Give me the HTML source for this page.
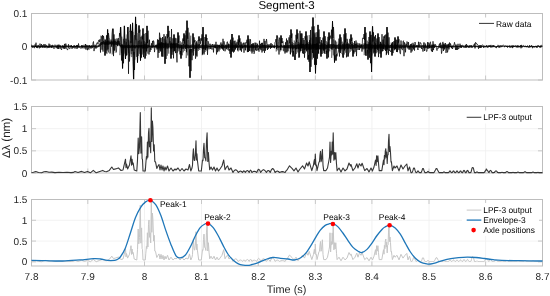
<!DOCTYPE html>
<html><head><meta charset="utf-8"><style>
html,body{margin:0;padding:0;background:#fff;width:550px;height:296px;overflow:hidden}
svg{display:block;text-rendering:geometricPrecision;filter:blur(0.35px)}
.t{font-family:"Liberation Sans",Helvetica,Arial,sans-serif;font-size:10px;fill:#262626}
.l{font-family:"Liberation Sans",Helvetica,Arial,sans-serif;font-size:8.4px;fill:#000}
.xl{font-family:"Liberation Sans",Helvetica,Arial,sans-serif;font-size:10.6px;fill:#262626}
.ti{font-family:"Liberation Sans",Helvetica,Arial,sans-serif;font-size:11.5px;fill:#000}
</style></head><body>
<svg width="550" height="296" viewBox="0 0 550 296">
<rect width="550" height="296" fill="#fff"/>
<line x1="87.80" y1="13.50" x2="87.80" y2="80.00" stroke="#efefef" stroke-width="0.8"/>
<line x1="144.50" y1="13.50" x2="144.50" y2="80.00" stroke="#efefef" stroke-width="0.8"/>
<line x1="201.50" y1="13.50" x2="201.50" y2="80.00" stroke="#efefef" stroke-width="0.8"/>
<line x1="258.30" y1="13.50" x2="258.30" y2="80.00" stroke="#efefef" stroke-width="0.8"/>
<line x1="315.40" y1="13.50" x2="315.40" y2="80.00" stroke="#efefef" stroke-width="0.8"/>
<line x1="371.90" y1="13.50" x2="371.90" y2="80.00" stroke="#efefef" stroke-width="0.8"/>
<line x1="429.00" y1="13.50" x2="429.00" y2="80.00" stroke="#efefef" stroke-width="0.8"/>
<line x1="485.60" y1="13.50" x2="485.60" y2="80.00" stroke="#efefef" stroke-width="0.8"/>
<line x1="31.50" y1="46.50" x2="542.50" y2="46.50" stroke="#efefef" stroke-width="0.8"/>
<rect x="31.50" y="13.50" width="511.00" height="66.50" fill="none" stroke="#bdbdbd" stroke-width="1"/>
<line x1="87.80" y1="13.50" x2="87.80" y2="18.00" stroke="#bdbdbd" stroke-width="0.8"/>
<line x1="87.80" y1="80.00" x2="87.80" y2="75.50" stroke="#bdbdbd" stroke-width="0.8"/>
<line x1="144.50" y1="13.50" x2="144.50" y2="18.00" stroke="#bdbdbd" stroke-width="0.8"/>
<line x1="144.50" y1="80.00" x2="144.50" y2="75.50" stroke="#bdbdbd" stroke-width="0.8"/>
<line x1="201.50" y1="13.50" x2="201.50" y2="18.00" stroke="#bdbdbd" stroke-width="0.8"/>
<line x1="201.50" y1="80.00" x2="201.50" y2="75.50" stroke="#bdbdbd" stroke-width="0.8"/>
<line x1="258.30" y1="13.50" x2="258.30" y2="18.00" stroke="#bdbdbd" stroke-width="0.8"/>
<line x1="258.30" y1="80.00" x2="258.30" y2="75.50" stroke="#bdbdbd" stroke-width="0.8"/>
<line x1="315.40" y1="13.50" x2="315.40" y2="18.00" stroke="#bdbdbd" stroke-width="0.8"/>
<line x1="315.40" y1="80.00" x2="315.40" y2="75.50" stroke="#bdbdbd" stroke-width="0.8"/>
<line x1="371.90" y1="13.50" x2="371.90" y2="18.00" stroke="#bdbdbd" stroke-width="0.8"/>
<line x1="371.90" y1="80.00" x2="371.90" y2="75.50" stroke="#bdbdbd" stroke-width="0.8"/>
<line x1="429.00" y1="13.50" x2="429.00" y2="18.00" stroke="#bdbdbd" stroke-width="0.8"/>
<line x1="429.00" y1="80.00" x2="429.00" y2="75.50" stroke="#bdbdbd" stroke-width="0.8"/>
<line x1="485.60" y1="13.50" x2="485.60" y2="18.00" stroke="#bdbdbd" stroke-width="0.8"/>
<line x1="485.60" y1="80.00" x2="485.60" y2="75.50" stroke="#bdbdbd" stroke-width="0.8"/>
<line x1="31.50" y1="13.50" x2="36.00" y2="13.50" stroke="#bdbdbd" stroke-width="0.8"/>
<line x1="542.50" y1="13.50" x2="538.00" y2="13.50" stroke="#bdbdbd" stroke-width="0.8"/>
<text x="27.3" y="17.10" text-anchor="end" class="t">0.1</text>
<line x1="31.50" y1="46.50" x2="36.00" y2="46.50" stroke="#bdbdbd" stroke-width="0.8"/>
<line x1="542.50" y1="46.50" x2="538.00" y2="46.50" stroke="#bdbdbd" stroke-width="0.8"/>
<text x="27.3" y="50.10" text-anchor="end" class="t">0</text>
<line x1="31.50" y1="80.00" x2="36.00" y2="80.00" stroke="#bdbdbd" stroke-width="0.8"/>
<line x1="542.50" y1="80.00" x2="538.00" y2="80.00" stroke="#bdbdbd" stroke-width="0.8"/>
<text x="27.3" y="83.60" text-anchor="end" class="t">-0.1</text>
<polyline points="31.5,46.1 31.8,47.1 32.2,45.8 32.5,46.8 32.8,46.1 33.1,47.3 33.5,46.2 33.8,46.9 34.1,45.6 34.5,47.2 34.8,46.0 35.1,47.1 35.5,45.8 35.8,47.0 36.1,46.1 36.4,47.3 36.8,45.8 37.1,47.1 37.4,45.7 37.8,47.1 38.1,45.6 38.4,46.9 38.8,45.9 39.1,47.1 39.4,46.0 39.7,47.1 40.1,46.1 40.4,47.3 40.7,45.7 41.1,46.9 41.4,45.9 41.7,47.0 42.1,46.1 42.4,47.3 42.7,45.9 43.0,46.9 43.4,45.8 43.7,46.9 44.0,45.7 44.4,46.9 44.7,46.2 45.0,46.8 45.4,46.2 45.7,46.9 46.0,45.9 46.3,47.1 46.7,46.0 47.0,46.8 47.3,46.1 47.7,47.5 48.0,45.9 48.3,47.3 48.7,46.1 49.0,46.9 49.3,45.6 49.6,47.2 50.0,46.0 50.3,47.0 50.6,46.1 51.0,46.9 51.3,46.1 51.6,47.4 52.0,45.9 52.3,46.9 52.6,45.7 52.9,47.0 53.3,46.1 53.6,47.2 53.9,45.7 54.3,46.8 54.6,45.8 54.9,46.9 55.3,46.2 55.6,46.8 55.9,46.1 56.2,47.1 56.6,46.0 56.9,47.3 57.2,46.0 57.6,47.1 57.9,45.9 58.2,47.6 58.6,45.4 58.9,47.1 59.2,45.8 59.5,47.1 59.9,45.6 60.2,46.9 60.5,46.1 60.9,47.2 61.2,45.9 61.5,47.5 61.9,45.6 62.2,47.3 62.5,45.6 62.8,47.4 63.2,45.5 63.5,47.6 63.8,46.0 64.2,47.4 64.5,46.0 64.8,47.2 65.2,45.5 65.5,47.6 65.8,45.5 66.1,46.9 66.5,45.8 66.8,47.0 67.1,45.4 67.5,47.0 67.8,45.9 68.1,47.2 68.5,46.1 68.8,47.5 69.1,45.6 69.4,47.0 69.8,45.7 70.1,46.9 70.4,45.7 70.8,47.0 71.1,46.2 71.4,46.8 71.8,46.0 72.1,47.0 72.4,46.1 72.7,47.0 73.1,46.1 73.4,46.8 73.7,46.1 74.1,46.9 74.4,45.8 74.7,46.8 75.1,46.2 75.4,47.0 75.7,45.8 76.0,47.2 76.4,45.9 76.7,46.8 77.0,45.9 77.4,47.1 77.7,46.2 78.0,47.0 78.4,46.2 78.7,47.1 79.0,45.9 79.3,47.1 79.7,45.9 80.0,46.9 80.3,45.9 80.7,46.9 81.0,46.2 81.3,47.0 81.7,46.0 82.0,46.9 82.3,45.9 82.6,47.1 83.0,46.1 83.3,47.1 83.6,46.0 84.0,47.2 84.3,46.0 84.6,47.3 85.0,46.0 85.3,47.1 85.6,45.8 85.9,47.1 86.3,46.0 86.6,47.4 86.9,46.1 87.3,47.0 87.6,45.8 87.9,46.9 88.3,46.1 88.6,47.4 88.9,45.6 89.2,47.3 89.6,45.5 89.9,47.4 90.2,45.9 90.6,47.3 90.9,45.9 91.2,47.4 91.6,45.8 91.9,47.0 92.2,45.5 92.5,47.4 92.9,45.6 93.2,47.3 93.5,45.5 93.9,47.2 94.2,45.7 94.5,47.0 94.9,45.7 95.2,47.5 95.5,45.5 95.8,47.5 96.2,45.7 96.5,47.6 96.8,46.0 97.2,47.7 97.5,45.7 97.8,47.1 98.2,45.2 98.5,47.1 98.8,44.8 99.1,47.0 99.5,44.4 99.8,46.3 100.1,43.4 100.5,45.7 100.8,42.7 101.1,44.6 101.5,42.1 101.8,45.1 102.1,42.0 102.4,43.8 102.8,42.2 103.1,44.4 103.4,40.8 103.8,43.8 104.1,40.8 104.4,44.6 104.8,42.0 105.1,44.5 105.4,41.8 105.7,45.0 106.1,41.3 106.4,44.3 106.7,41.7 107.1,45.3 107.4,40.9 107.7,44.6 108.1,41.4 108.4,45.1 108.7,40.5 109.0,44.0 109.4,41.8 109.7,44.5 110.0,41.2 110.4,44.0 110.7,42.0 111.0,44.3 111.4,41.4 111.7,45.2 112.0,41.0 112.3,44.0 112.7,42.0 113.0,44.7 113.3,40.6 113.7,45.5 114.0,41.4 114.3,45.5 114.7,40.5 115.0,44.6 115.3,40.8 115.6,44.6 116.0,41.8 116.3,45.0 116.6,41.9 117.0,45.1 117.3,40.6 117.6,45.6 118.0,41.2 118.3,44.1 118.6,40.6 118.9,45.3 119.3,41.2 119.6,45.7 119.9,42.9 120.3,46.5 120.6,44.9 120.9,47.4 121.3,45.0 121.6,47.6 121.9,45.0 122.2,47.8 122.6,45.3 122.9,48.4 123.2,45.6 123.6,47.8 123.9,45.6 124.2,48.3 124.6,45.2 124.9,47.6 125.2,45.6 125.5,47.9 125.9,45.3 126.2,47.3 126.5,45.8 126.9,47.7 127.2,45.1 127.5,47.8 127.9,44.7 128.2,48.4 128.5,44.6 128.8,48.2 129.2,45.2 129.5,47.9 129.8,45.3 130.2,47.7 130.5,45.7 130.8,48.2 131.2,45.5 131.5,47.2 131.8,45.2 132.1,48.1 132.5,45.2 132.8,47.7 133.1,44.9 133.5,47.4 133.8,45.8 134.1,48.0 134.5,45.1 134.8,48.4 135.1,45.2 135.4,48.3 135.8,45.8 136.1,47.3 136.4,45.0 136.8,47.5 137.1,45.7 137.4,47.4 137.8,45.3 138.1,47.7 138.4,45.0 138.7,48.4 139.1,45.3 139.4,47.5 139.7,45.0 140.1,47.2 140.4,45.2 140.7,47.7 141.1,45.2 141.4,47.3 141.7,45.0 142.0,48.1 142.4,44.7 142.7,48.6 143.0,45.2 143.4,48.2 143.7,45.1 144.0,47.6 144.4,44.5 144.7,48.3 145.0,44.4 145.3,48.5 145.7,44.4 146.0,47.5 146.3,45.7 146.7,47.6 147.0,45.1 147.3,48.3 147.7,45.0 148.0,48.1 148.3,44.7 148.6,47.3 149.0,45.1 149.3,47.1 149.6,45.8 150.0,47.5 150.3,45.5 150.6,47.3 151.0,45.8 151.3,47.6 151.6,45.8 151.9,47.0 152.3,45.9 152.6,47.0 152.9,45.4 153.3,47.0 153.6,45.3 153.9,47.1 154.3,45.8 154.6,47.4 154.9,45.8 155.2,47.3 155.6,46.0 155.9,47.3 156.2,45.9 156.6,47.4 156.9,44.4 157.2,47.8 157.6,44.8 157.9,48.8 158.2,43.0 158.5,47.8 158.9,43.9 159.2,48.5 159.5,42.7 159.9,48.1 160.2,43.9 160.5,47.1 160.9,42.7 161.2,48.2 161.5,42.4 161.8,48.4 162.2,43.4 162.5,47.0 162.8,42.4 163.2,48.2 163.5,43.1 163.8,48.2 164.2,43.5 164.5,47.4 164.8,43.1 165.1,47.7 165.5,42.8 165.8,48.7 166.1,42.5 166.5,47.5 166.8,43.5 167.1,48.7 167.5,43.5 167.8,48.4 168.1,44.1 168.4,47.7 168.8,43.2 169.1,48.4 169.4,42.4 169.8,47.0 170.1,43.0 170.4,48.1 170.8,44.0 171.1,48.5 171.4,43.1 171.7,48.8 172.1,43.9 172.4,47.8 172.7,43.6 173.1,48.1 173.4,43.0 173.7,47.8 174.1,43.6 174.4,47.8 174.7,43.5 175.0,48.6 175.4,43.3 175.7,47.7 176.0,43.8 176.4,47.3 176.7,42.9 177.0,47.6 177.4,43.8 177.7,48.2 178.0,44.2 178.3,47.6 178.7,44.3 179.0,48.5 179.3,44.8 179.7,48.4 180.0,44.6 180.3,48.0 180.7,44.7 181.0,47.7 181.3,45.7 181.6,48.3 182.0,45.0 182.3,48.7 182.6,45.3 183.0,48.5 183.3,44.2 183.6,48.7 184.0,44.2 184.3,47.5 184.6,45.4 184.9,47.7 185.3,45.1 185.6,47.5 185.9,45.5 186.3,47.3 186.6,44.3 186.9,47.9 187.3,44.8 187.6,48.0 187.9,44.6 188.2,48.5 188.6,45.1 188.9,48.1 189.2,45.5 189.6,47.7 189.9,45.4 190.2,47.8 190.6,45.2 190.9,48.2 191.2,45.2 191.5,47.8 191.9,44.4 192.2,47.3 192.5,45.7 192.9,47.4 193.2,44.4 193.5,48.3 193.9,44.6 194.2,48.7 194.5,45.4 194.8,48.7 195.2,45.3 195.5,48.1 195.8,44.7 196.2,48.5 196.5,45.3 196.8,48.0 197.2,45.6 197.5,47.7 197.8,44.2 198.1,48.7 198.5,44.8 198.8,48.5 199.1,44.3 199.5,47.8 199.8,44.2 200.1,48.0 200.5,45.5 200.8,48.1 201.1,44.8 201.4,48.3 201.8,44.7 202.1,47.3 202.4,44.8 202.8,48.6 203.1,44.8 203.4,48.7 203.8,45.0 204.1,48.4 204.4,45.5 204.7,48.5 205.1,45.1 205.4,48.5 205.7,45.3 206.1,48.1 206.4,44.6 206.7,48.2 207.1,44.9 207.4,48.4 207.7,45.8 208.0,47.1 208.4,45.5 208.7,47.7 209.0,45.7 209.4,47.1 209.7,46.1 210.0,47.2 210.4,45.8 210.7,47.2 211.0,45.7 211.3,47.1 211.7,45.5 212.0,47.1 212.3,46.1 212.7,47.1 213.0,45.5 213.3,47.0 213.7,45.9 214.0,47.5 214.3,45.8 214.6,47.7 215.0,45.9 215.3,48.0 215.6,45.6 216.0,47.4 216.3,44.9 216.6,48.4 217.0,44.7 217.3,48.1 217.6,44.7 217.9,48.4 218.3,45.2 218.6,47.3 218.9,44.8 219.3,47.6 219.6,45.5 219.9,47.8 220.3,45.8 220.6,47.2 220.9,45.5 221.2,47.9 221.6,44.9 221.9,48.3 222.2,44.8 222.6,48.3 222.9,45.1 223.2,48.1 223.6,45.1 223.9,47.3 224.2,45.8 224.5,48.1 224.9,45.6 225.2,48.1 225.5,45.3 225.9,47.2 226.2,45.1 226.5,47.8 226.9,45.7 227.2,47.6 227.5,45.3 227.8,47.8 228.2,44.6 228.5,47.6 228.8,45.0 229.2,48.2 229.5,44.3 229.8,47.5 230.2,45.6 230.5,47.6 230.8,45.4 231.1,47.6 231.5,45.6 231.8,47.6 232.1,45.4 232.5,48.0 232.8,44.7 233.1,47.9 233.5,45.4 233.8,47.5 234.1,45.3 234.4,47.6 234.8,45.0 235.1,48.6 235.4,44.7 235.8,47.5 236.1,45.8 236.4,47.2 236.8,45.4 237.1,47.5 237.4,45.2 237.7,47.2 238.1,45.6 238.4,47.8 238.7,45.3 239.1,47.7 239.4,44.9 239.7,47.2 240.1,45.7 240.4,47.7 240.7,45.3 241.0,48.2 241.4,44.8 241.7,47.8 242.0,45.1 242.4,47.9 242.7,45.7 243.0,47.8 243.4,45.6 243.7,47.5 244.0,45.7 244.3,47.1 244.7,44.9 245.0,47.9 245.3,45.0 245.7,47.4 246.0,45.4 246.3,47.3 246.7,45.2 247.0,48.1 247.3,45.0 247.6,48.2 248.0,45.6 248.3,47.9 248.6,45.7 249.0,47.7 249.3,45.8 249.6,47.7 250.0,45.3 250.3,47.5 250.6,45.5 250.9,47.9 251.3,45.3 251.6,47.6 251.9,45.7 252.3,47.5 252.6,44.9 252.9,48.3 253.3,45.4 253.6,48.1 253.9,44.8 254.2,47.4 254.6,45.5 254.9,48.0 255.2,45.5 255.6,48.3 255.9,45.4 256.2,48.0 256.6,45.0 256.9,47.4 257.2,44.8 257.5,47.5 257.9,45.7 258.2,47.2 258.5,45.3 258.9,47.9 259.2,45.5 259.5,48.2 259.9,45.5 260.2,48.2 260.5,45.8 260.8,47.5 261.2,45.7 261.5,47.7 261.8,45.4 262.2,47.6 262.5,44.8 262.8,47.9 263.2,45.1 263.5,47.6 263.8,44.9 264.1,47.8 264.5,44.9 264.8,48.3 265.1,45.1 265.5,47.7 265.8,45.5 266.1,48.2 266.5,45.1 266.8,47.9 267.1,45.8 267.4,47.3 267.8,45.4 268.1,47.0 268.4,45.6 268.8,47.2 269.1,46.0 269.4,47.1 269.8,46.1 270.1,47.3 270.4,45.6 270.7,46.9 271.1,45.9 271.4,47.4 271.7,46.0 272.1,47.2 272.4,45.6 272.7,47.3 273.1,46.0 273.4,47.5 273.7,45.6 274.0,47.3 274.4,45.8 274.7,47.4 275.0,45.6 275.4,47.2 275.7,45.8 276.0,47.2 276.4,45.7 276.7,47.4 277.0,45.2 277.3,47.8 277.7,45.2 278.0,48.1 278.3,45.8 278.7,47.6 279.0,45.8 279.3,47.6 279.7,45.8 280.0,47.2 280.3,45.8 280.6,47.6 281.0,45.0 281.3,47.4 281.6,45.0 282.0,47.4 282.3,45.6 282.6,47.7 283.0,45.8 283.3,47.6 283.6,45.2 283.9,48.1 284.3,45.8 284.6,48.0 284.9,45.2 285.3,47.8 285.6,45.8 285.9,48.1 286.3,45.6 286.6,47.7 286.9,45.3 287.2,48.2 287.6,45.2 287.9,48.3 288.2,45.5 288.6,48.1 288.9,44.8 289.2,48.2 289.6,44.5 289.9,48.5 290.2,44.8 290.5,48.8 290.9,45.3 291.2,48.5 291.5,44.6 291.9,48.0 292.2,44.3 292.5,48.9 292.9,45.2 293.2,48.2 293.5,45.3 293.8,48.8 294.2,45.3 294.5,48.0 294.8,44.5 295.2,48.5 295.5,45.3 295.8,49.5 296.2,44.9 296.5,48.9 296.8,44.9 297.1,48.9 297.5,44.6 297.8,48.3 298.1,44.4 298.5,48.9 298.8,44.1 299.1,49.1 299.5,44.8 299.8,47.8 300.1,44.8 300.4,48.4 300.8,44.0 301.1,48.6 301.4,44.7 301.8,47.9 302.1,44.0 302.4,48.0 302.8,44.1 303.1,49.4 303.4,43.7 303.7,48.2 304.1,44.3 304.4,50.1 304.7,45.0 305.1,49.5 305.4,44.1 305.7,49.3 306.1,44.2 306.4,48.1 306.7,43.8 307.0,47.8 307.4,43.1 307.7,49.8 308.0,44.3 308.4,49.1 308.7,43.9 309.0,50.2 309.4,45.1 309.7,48.6 310.0,44.2 310.3,49.8 310.7,43.4 311.0,48.9 311.3,45.1 311.7,49.4 312.0,44.2 312.3,48.1 312.7,43.6 313.0,48.9 313.3,44.4 313.6,48.5 314.0,43.9 314.3,48.4 314.6,44.2 315.0,50.1 315.3,44.0 315.6,48.4 316.0,43.9 316.3,50.0 316.6,43.3 316.9,49.2 317.3,43.5 317.6,49.1 317.9,44.2 318.3,48.3 318.6,45.2 318.9,48.9 319.3,44.3 319.6,49.4 319.9,44.9 320.2,49.2 320.6,45.1 320.9,49.3 321.2,43.6 321.6,47.6 321.9,44.9 322.2,49.4 322.6,43.6 322.9,48.8 323.2,45.2 323.5,47.5 323.9,45.0 324.2,49.3 324.5,43.9 324.9,48.3 325.2,44.0 325.5,49.3 325.9,44.9 326.2,49.2 326.5,45.0 326.8,48.2 327.2,45.4 327.5,47.8 327.8,44.4 328.2,47.6 328.5,44.4 328.8,47.9 329.2,44.0 329.5,47.8 329.8,45.1 330.1,48.0 330.5,44.4 330.8,49.1 331.1,44.0 331.5,48.9 331.8,44.2 332.1,48.6 332.5,44.8 332.8,47.9 333.1,43.8 333.4,48.3 333.8,44.2 334.1,47.7 334.4,44.8 334.8,47.7 335.1,44.8 335.4,48.9 335.8,44.8 336.1,48.8 336.4,45.2 336.7,48.3 337.1,44.7 337.4,48.5 337.7,45.0 338.1,48.9 338.4,43.8 338.7,49.1 339.1,45.4 339.4,48.5 339.7,44.8 340.0,48.6 340.4,45.3 340.7,48.9 341.0,44.7 341.4,49.3 341.7,45.4 342.0,48.3 342.4,44.5 342.7,49.1 343.0,44.0 343.3,47.9 343.7,44.9 344.0,48.9 344.3,44.7 344.7,48.0 345.0,43.7 345.3,49.1 345.7,44.8 346.0,48.6 346.3,43.7 346.6,47.9 347.0,43.7 347.3,49.2 347.6,44.1 348.0,48.8 348.3,44.2 348.6,48.6 349.0,44.4 349.3,47.9 349.6,44.4 349.9,48.8 350.3,44.5 350.6,48.8 350.9,44.6 351.3,49.1 351.6,44.1 351.9,47.7 352.3,44.0 352.6,48.1 352.9,45.3 353.2,47.8 353.6,44.9 353.9,48.5 354.2,44.8 354.6,47.9 354.9,44.0 355.2,48.2 355.6,43.8 355.9,48.0 356.2,44.3 356.5,48.0 356.9,44.4 357.2,48.1 357.5,45.1 357.9,47.1 358.2,45.3 358.5,47.4 358.9,45.3 359.2,47.8 359.5,45.9 359.8,47.0 360.2,45.3 360.5,47.9 360.8,45.1 361.2,47.5 361.5,44.8 361.8,47.3 362.2,45.5 362.5,48.6 362.8,44.3 363.1,49.5 363.5,44.8 363.8,48.7 364.1,43.2 364.5,48.3 364.8,44.4 365.1,49.0 365.5,43.2 365.8,48.1 366.1,43.8 366.4,48.6 366.8,44.4 367.1,48.2 367.4,44.3 367.8,48.9 368.1,44.5 368.4,48.8 368.8,43.9 369.1,49.5 369.4,44.1 369.7,48.5 370.1,43.2 370.4,48.1 370.7,45.2 371.1,49.7 371.4,44.7 371.7,48.0 372.1,44.5 372.4,48.4 372.7,44.7 373.0,49.2 373.4,44.9 373.7,47.7 374.0,45.2 374.4,49.1 374.7,44.8 375.0,48.1 375.4,44.2 375.7,49.1 376.0,44.6 376.3,48.9 376.7,45.1 377.0,48.1 377.3,44.5 377.7,47.9 378.0,45.1 378.3,47.8 378.7,45.1 379.0,48.9 379.3,44.1 379.6,47.7 380.0,44.9 380.3,48.7 380.6,44.0 381.0,48.4 381.3,44.3 381.6,47.9 382.0,44.2 382.3,48.9 382.6,44.8 382.9,47.9 383.3,45.5 383.6,48.6 383.9,44.4 384.3,47.5 384.6,44.6 384.9,49.1 385.3,45.5 385.6,47.7 385.9,45.4 386.2,48.2 386.6,44.9 386.9,49.0 387.2,45.4 387.6,47.8 387.9,43.9 388.2,47.5 388.6,45.2 388.9,48.0 389.2,45.7 389.5,47.7 389.9,44.9 390.2,48.1 390.5,44.9 390.9,48.1 391.2,44.9 391.5,47.3 391.9,44.9 392.2,48.0 392.5,45.5 392.8,47.8 393.2,45.4 393.5,48.4 393.8,45.4 394.2,47.5 394.5,44.7 394.8,48.3 395.2,44.6 395.5,48.2 395.8,45.2 396.1,47.9 396.5,45.0 396.8,48.0 397.1,44.5 397.5,47.6 397.8,44.7 398.1,47.3 398.5,45.5 398.8,48.5 399.1,45.4 399.4,47.9 399.8,44.5 400.1,48.1 400.4,45.1 400.8,48.2 401.1,44.4 401.4,48.5 401.8,45.5 402.1,47.4 402.4,45.4 402.7,47.4 403.1,44.7 403.4,48.4 403.7,45.6 404.1,47.3 404.4,45.4 404.7,47.9 405.1,45.1 405.4,47.5 405.7,45.4 406.0,47.7 406.4,45.3 406.7,47.0 407.0,45.5 407.4,47.6 407.7,45.3 408.0,47.3 408.4,45.9 408.7,47.3 409.0,45.8 409.3,47.3 409.7,45.4 410.0,47.5 410.3,45.5 410.7,47.5 411.0,45.9 411.3,47.0 411.7,45.7 412.0,47.6 412.3,45.5 412.6,47.6 413.0,45.5 413.3,47.6 413.6,45.2 414.0,47.5 414.3,45.4 414.6,47.7 415.0,45.5 415.3,47.6 415.6,46.0 415.9,47.0 416.3,45.3 416.6,47.1 416.9,45.8 417.3,47.1 417.6,45.5 417.9,47.0 418.3,45.4 418.6,47.2 418.9,45.4 419.2,47.7 419.6,45.5 419.9,47.3 420.2,45.5 420.6,47.8 420.9,45.2 421.2,47.3 421.6,45.9 421.9,48.2 422.2,45.1 422.5,47.2 422.9,45.2 423.2,47.9 423.5,45.5 423.9,48.2 424.2,45.5 424.5,47.3 424.9,45.5 425.2,47.6 425.5,44.8 425.8,48.0 426.2,45.7 426.5,47.6 426.8,45.7 427.2,48.0 427.5,44.8 427.8,47.3 428.2,45.2 428.5,47.5 428.8,45.5 429.1,48.1 429.5,44.6 429.8,47.5 430.1,45.2 430.5,47.5 430.8,45.8 431.1,47.9 431.5,45.6 431.8,48.0 432.1,44.9 432.4,47.3 432.8,45.1 433.1,47.4 433.4,44.9 433.8,47.5 434.1,45.1 434.4,47.6 434.8,45.7 435.1,46.9 435.4,45.8 435.7,47.0 436.1,45.8 436.4,47.1 436.7,46.0 437.1,47.2 437.4,46.0 437.7,47.2 438.1,46.0 438.4,47.2 438.7,45.8 439.0,47.3 439.4,46.0 439.7,47.0 440.0,45.6 440.4,47.4 440.7,45.4 441.0,48.2 441.4,45.4 441.7,48.5 442.0,44.7 442.3,48.1 442.7,45.4 443.0,48.3 443.3,44.5 443.7,48.3 444.0,44.5 444.3,47.4 444.7,44.8 445.0,48.4 445.3,45.1 445.6,47.3 446.0,45.0 446.3,47.6 446.6,45.7 447.0,48.5 447.3,44.7 447.6,47.9 448.0,45.1 448.3,47.7 448.6,45.6 448.9,47.0 449.3,45.8 449.6,47.3 449.9,45.7 450.3,47.1 450.6,46.0 450.9,47.1 451.3,46.0 451.6,47.5 451.9,46.0 452.2,47.1 452.6,45.8 452.9,47.0 453.2,45.8 453.6,47.2 453.9,46.1 454.2,47.4 454.6,45.8 454.9,46.9 455.2,45.6 455.5,46.9 455.9,45.7 456.2,47.1 456.5,46.0 456.9,47.0 457.2,45.9 457.5,47.0 457.9,46.0 458.2,47.0 458.5,45.9 458.8,47.2 459.2,46.1 459.5,46.8 459.8,45.7 460.2,46.8 460.5,45.9 460.8,47.1 461.2,45.7 461.5,46.9 461.8,45.7 462.1,46.9 462.5,46.1 462.8,47.1 463.1,46.1 463.5,47.1 463.8,45.9 464.1,46.8 464.5,45.8 464.8,47.0 465.1,45.7 465.4,46.8 465.8,46.2 466.1,47.1 466.4,46.1 466.8,47.0 467.1,45.8 467.4,46.9 467.8,46.2 468.1,46.8 468.4,46.0 468.7,47.1 469.1,45.9 469.4,47.0 469.7,46.1 470.1,46.8 470.4,46.2 470.7,46.8 471.1,45.9 471.4,46.9 471.7,46.2 472.0,47.0 472.4,46.1 472.7,46.7 473.0,45.9 473.4,47.1 473.7,46.2 474.0,47.1 474.4,46.0 474.7,47.1 475.0,45.8 475.3,47.3 475.7,45.9 476.0,47.0 476.3,45.6 476.7,47.1 477.0,46.0 477.3,47.2 477.7,45.9 478.0,47.1 478.3,46.1 478.6,46.9 479.0,46.3 479.3,46.7 479.6,46.2 480.0,46.8 480.3,46.2 480.6,46.7 481.0,46.1 481.3,46.8 481.6,46.2 481.9,46.9 482.3,46.1 482.6,46.9 482.9,46.1 483.3,46.8 483.6,46.3 483.9,46.9 484.3,46.3 484.6,46.9 484.9,46.2 485.2,46.7 485.6,46.2 485.9,46.8 486.2,46.1 486.6,46.9 486.9,46.1 487.2,46.7 487.6,46.2 487.9,46.7 488.2,46.2 488.5,46.7 488.9,46.2 489.2,46.7 489.5,46.1 489.9,46.9 490.2,46.3 490.5,46.9 490.9,46.3 491.2,46.8 491.5,46.3 491.8,46.8 492.2,46.2 492.5,46.7 492.8,46.3 493.2,46.8 493.5,46.1 493.8,46.9 494.2,46.3 494.5,46.7 494.8,46.3 495.1,46.7 495.5,46.3 495.8,46.7 496.1,46.2 496.5,46.7 496.8,46.2 497.1,46.7 497.5,46.3 497.8,46.8 498.1,46.2 498.4,46.8 498.8,46.3 499.1,46.8 499.4,46.1 499.8,46.6 500.1,46.3 500.4,46.8 500.8,46.3 501.1,46.7 501.4,46.1 501.7,46.7 502.1,46.1 502.4,46.8 502.7,46.3 503.1,46.7 503.4,46.3 503.7,46.8 504.1,46.1 504.4,46.7 504.7,46.3 505.0,46.7 505.4,46.3 505.7,46.7 506.0,46.1 506.4,46.9 506.7,46.1 507.0,46.8 507.4,46.1 507.7,46.8 508.0,46.3 508.3,46.8 508.7,46.3 509.0,46.8 509.3,46.1 509.7,46.7 510.0,46.3 510.3,46.9 510.7,46.2 511.0,46.7 511.3,46.3 511.6,46.7 512.0,46.1 512.3,46.8 512.6,46.1 513.0,46.8 513.3,46.1 513.6,46.9 514.0,46.2 514.3,46.9 514.6,46.3 514.9,46.7 515.3,46.2 515.6,46.7 515.9,46.2 516.3,46.8 516.6,46.1 516.9,46.9 517.3,46.3 517.6,46.9 517.9,46.2 518.2,46.8 518.6,46.2 518.9,46.9 519.2,46.3 519.6,46.6 519.9,46.1 520.2,46.8 520.6,46.2 520.9,46.7 521.2,46.3 521.5,46.8 521.9,46.1 522.2,46.8 522.5,46.2 522.9,46.8 523.2,46.3 523.5,46.8 523.9,46.3 524.2,46.8 524.5,46.2 524.8,46.8 525.2,46.2 525.5,46.9 525.8,46.1 526.2,46.7 526.5,46.2 526.8,46.7 527.2,46.3 527.5,46.8 527.8,46.1 528.1,46.9 528.5,46.3 528.8,46.7 529.1,46.2 529.5,46.9 529.8,46.3 530.1,46.7 530.5,46.2 530.8,46.8 531.1,46.1 531.4,46.7 531.8,46.2 532.1,46.9 532.4,46.2 532.8,46.8 533.1,46.3 533.4,46.9 533.8,46.2 534.1,46.8 534.4,46.2 534.7,46.9 535.1,46.1 535.4,46.7 535.7,46.2 536.1,46.8 536.4,46.1 536.7,46.9 537.1,46.2 537.4,46.9 537.7,46.2 538.0,46.8 538.4,46.3 538.7,46.8 539.0,46.3 539.4,46.8 539.7,46.4 540.0,46.8 540.4,46.2 540.7,46.8 541.0,46.2 541.3,46.7 541.7,46.2 542.0,46.8 542.3,46.2" fill="none" stroke="#000" stroke-width="0.50" stroke-linejoin="miter"/>
<polyline points="31.5,44.7 32.0,47.3 32.5,47.5 33.0,45.3 33.5,47.3 34.0,47.8 34.5,48.0 35.0,44.5 35.5,47.0 36.0,42.7 36.5,47.7 37.0,45.8 37.5,48.1 38.0,45.4 38.5,45.3 39.0,48.1 39.5,48.2 40.0,43.6 40.5,47.4 41.0,47.8 41.5,44.1 42.0,47.2 42.5,45.3 43.0,48.0 43.5,44.5 44.0,44.7 44.5,47.7 45.0,44.0 45.5,47.6 46.0,45.0 46.5,45.3 47.0,48.2 47.5,46.0 48.0,45.8 48.5,47.7 49.0,43.6 49.5,47.6 50.0,44.5 50.5,45.4 51.0,47.9 51.5,45.4 52.0,48.0 52.5,45.0 53.0,45.0 53.5,47.9 54.0,48.8 54.5,47.7 55.0,44.7 55.5,45.6 56.0,48.2 56.5,47.8 57.0,44.9 57.5,48.7 58.0,44.8 58.5,49.0 59.0,44.6 59.5,45.3 60.0,48.7 60.5,45.5 61.0,48.7 61.5,49.9 62.0,48.1 62.5,45.7 63.0,47.5 63.5,45.9 64.0,49.0 64.5,43.9 65.0,48.9 65.5,43.9 66.0,43.5 66.5,48.5 67.0,49.0 67.5,50.1 68.0,48.6 68.5,44.3 69.0,47.9 69.5,48.7 70.0,48.8 70.5,45.7 71.0,47.3 71.5,45.1 72.0,48.8 72.5,46.0 73.0,48.1 73.5,45.6 74.0,47.7 74.5,45.4 75.0,48.6 75.5,46.0 76.0,47.4 76.5,45.2 77.0,49.0 77.5,45.0 78.0,48.0 78.5,43.5 79.0,47.1 79.5,47.8 80.0,47.1 80.5,47.8 81.0,48.6 81.5,45.2 82.0,47.9 82.5,45.4 83.0,48.4 83.5,45.3 84.0,44.8 84.5,45.9 85.0,48.6 85.5,44.0 86.0,49.7 86.5,44.9 87.0,45.7 87.5,50.2 88.0,45.2 88.5,49.1 89.0,49.6 89.5,45.4 90.0,47.5 90.5,45.8 91.0,48.7 91.5,45.5 92.0,48.0 92.5,47.8 93.0,42.9 93.5,41.5 94.0,51.1 94.5,48.1 95.0,44.7 95.5,47.6 96.0,48.7 96.5,44.1 97.0,42.6 97.5,42.7 98.0,44.3 98.5,40.5 99.0,39.9 99.5,41.9 100.0,39.3 100.5,52.5 101.0,35.8 101.5,36.6 102.0,49.7 102.5,35.1 103.0,51.6 103.5,35.9 104.0,39.5 104.5,39.7 105.0,55.5 105.5,39.6 106.0,53.1 106.5,35.3 107.0,50.5 107.5,29.5 108.0,49.3 108.5,33.1 109.0,37.3 109.5,39.2 110.0,53.5 110.5,51.1 111.0,39.6 111.5,46.6 112.0,34.2 112.5,29.1 113.0,28.7 113.5,56.1 114.0,34.4 114.5,50.6 115.0,38.8 115.5,46.0 116.0,52.5 116.5,51.6 117.0,38.4 117.5,46.1 118.0,39.4 118.5,38.2 119.0,45.5 119.5,33.1 120.0,36.5 120.5,27.1 121.0,36.8 121.5,60.5 122.0,44.1 122.5,68.4 123.0,45.1 123.5,63.3 124.0,43.3 124.5,25.9 125.0,42.8 125.5,59.0 126.0,38.7 126.5,55.5 127.0,35.0 127.5,33.8 128.0,27.1 128.5,73.8 129.0,31.9 129.5,31.4 130.0,31.0 130.5,24.5 131.0,42.9 131.5,30.9 132.0,51.0 132.5,22.9 133.0,61.6 133.5,79.1 134.0,52.0 134.5,70.0 135.0,43.1 135.5,16.9 136.0,39.7 136.5,24.2 137.0,37.3 137.5,62.5 138.0,33.4 138.5,32.9 139.0,25.5 139.5,32.6 140.0,29.7 140.5,60.5 141.0,36.8 141.5,57.6 142.0,35.7 142.5,39.3 143.0,28.5 143.5,57.1 144.0,33.8 144.5,47.8 145.0,58.5 145.5,55.7 146.0,33.0 146.5,51.4 147.0,25.9 147.5,43.0 148.0,30.7 148.5,42.1 149.0,54.5 149.5,39.7 150.0,52.0 150.5,47.6 151.0,49.9 151.5,43.3 152.0,47.9 152.5,40.9 153.0,48.2 153.5,40.6 154.0,42.1 154.5,52.1 155.0,47.4 155.5,44.9 156.0,47.5 156.5,45.1 157.0,49.5 157.5,39.4 158.0,57.8 158.5,39.9 159.0,52.9 159.5,32.7 160.0,37.5 160.5,51.4 161.0,38.1 161.5,52.5 162.0,56.5 162.5,37.0 163.0,56.7 163.5,38.1 164.0,34.2 164.5,37.9 165.0,63.7 165.5,36.4 166.0,59.0 166.5,41.1 167.0,34.1 167.5,38.2 168.0,25.9 168.5,36.7 169.0,30.9 169.5,42.8 170.0,37.1 170.5,43.7 171.0,58.5 171.5,29.0 172.0,54.8 172.5,49.1 173.0,38.3 173.5,58.3 174.0,34.5 174.5,51.2 175.0,37.8 175.5,53.1 176.0,38.3 176.5,53.9 177.0,62.4 177.5,44.6 178.0,32.5 178.5,42.8 179.0,35.5 179.5,50.1 180.0,54.4 180.5,51.0 181.0,58.5 181.5,45.3 182.0,55.3 182.5,39.6 183.0,38.4 183.5,41.1 184.0,33.5 184.5,43.6 185.0,35.3 185.5,48.9 186.0,30.6 186.5,52.2 187.0,20.7 187.5,38.6 188.0,27.8 188.5,39.5 189.0,66.3 189.5,49.5 190.0,77.7 190.5,48.9 191.0,71.1 191.5,48.8 192.0,60.2 192.5,53.1 193.0,33.5 193.5,55.5 194.0,37.3 194.5,42.3 195.0,40.1 195.5,58.7 196.0,55.5 196.5,41.4 197.0,56.5 197.5,44.6 198.0,40.3 198.5,40.8 199.0,36.5 199.5,40.7 200.0,39.3 200.5,43.8 201.0,38.0 201.5,40.6 202.0,34.3 202.5,54.4 203.0,27.1 203.5,44.8 204.0,54.5 204.5,50.5 205.0,37.0 205.5,49.9 206.0,34.5 206.5,40.8 207.0,38.0 207.5,54.8 208.0,41.2 208.5,42.2 209.0,49.3 209.5,45.4 210.0,43.7 210.5,48.9 211.0,44.5 211.5,47.8 212.0,49.6 212.5,44.0 213.0,45.3 213.5,52.4 214.0,44.5 214.5,47.3 215.0,44.6 215.5,48.2 216.0,41.8 216.5,54.4 217.0,47.7 217.5,52.2 218.0,45.1 218.5,49.1 219.0,51.4 219.5,44.9 220.0,49.5 220.5,43.4 221.0,42.4 221.5,48.4 222.0,43.6 222.5,49.4 223.0,38.8 223.5,50.7 224.0,41.3 224.5,44.3 225.0,51.3 225.5,48.1 226.0,44.6 226.5,49.2 227.0,41.9 227.5,41.8 228.0,49.8 228.5,43.7 229.0,50.9 229.5,49.2 230.0,53.9 230.5,39.7 231.0,57.5 231.5,49.2 232.0,34.0 232.5,51.6 233.0,37.6 233.5,52.5 234.0,41.1 234.5,51.5 235.0,40.6 235.5,49.5 236.0,43.4 236.5,47.7 237.0,41.8 237.5,50.4 238.0,39.5 238.5,44.9 239.0,35.5 239.5,42.2 240.0,38.4 240.5,50.3 241.0,41.8 241.5,51.7 242.0,43.5 242.5,48.4 243.0,44.8 243.5,42.7 244.0,52.7 244.5,44.6 245.0,42.6 245.5,50.3 246.0,42.1 246.5,42.6 247.0,39.7 247.5,52.1 248.0,35.5 248.5,52.0 249.0,38.9 249.5,50.9 250.0,41.7 250.5,39.3 251.0,51.4 251.5,44.1 252.0,53.5 252.5,43.5 253.0,51.6 253.5,43.3 254.0,53.8 254.5,52.5 255.0,42.6 255.5,50.3 256.0,42.8 256.5,50.5 257.0,51.0 257.5,43.7 258.0,50.1 258.5,48.3 259.0,51.7 259.5,40.7 260.0,49.2 260.5,43.9 261.0,50.2 261.5,42.9 262.0,52.5 262.5,42.8 263.0,51.1 263.5,50.1 264.0,38.9 264.5,52.9 265.0,40.9 265.5,50.7 266.0,44.5 266.5,39.0 267.0,43.1 267.5,50.0 268.0,44.2 268.5,48.6 269.0,45.2 269.5,47.4 270.0,44.1 270.5,48.8 271.0,43.0 271.5,47.9 272.0,44.2 272.5,44.6 273.0,47.6 273.5,47.1 274.0,45.4 274.5,48.2 275.0,42.0 275.5,41.6 276.0,39.0 276.5,48.9 277.0,35.5 277.5,36.6 278.0,38.2 278.5,41.5 279.0,54.5 279.5,37.7 280.0,39.0 280.5,49.9 281.0,35.5 281.5,42.9 282.0,38.0 282.5,42.9 283.0,41.4 283.5,50.7 284.0,51.3 284.5,45.4 285.0,53.5 285.5,42.3 286.0,52.3 286.5,38.5 287.0,52.5 287.5,40.4 288.0,51.3 288.5,44.5 289.0,37.4 289.5,43.5 290.0,35.2 290.5,54.3 291.0,29.5 291.5,38.0 292.0,33.5 292.5,50.4 293.0,56.5 293.5,50.9 294.0,54.9 294.5,55.9 295.0,60.0 295.5,52.8 296.0,34.8 296.5,42.1 297.0,29.5 297.5,38.6 298.0,33.3 298.5,41.4 299.0,57.5 299.5,56.7 300.0,30.8 300.5,50.9 301.0,33.5 301.5,48.2 302.0,33.5 302.5,53.3 303.0,38.0 303.5,53.8 304.0,40.0 304.5,57.7 305.0,36.3 305.5,39.7 306.0,31.5 306.5,50.8 307.0,35.5 307.5,41.0 308.0,59.5 308.5,55.1 309.0,61.8 309.5,40.2 310.0,72.0 310.5,30.0 311.0,66.8 311.5,50.1 312.0,26.6 312.5,52.9 313.0,17.6 313.5,57.8 314.0,26.3 314.5,64.8 315.0,32.6 315.5,73.3 316.0,37.2 316.5,64.9 317.0,32.2 317.5,58.7 318.0,24.9 318.5,53.3 319.0,29.5 319.5,43.6 320.0,37.0 320.5,51.0 321.0,56.5 321.5,40.1 322.0,54.0 322.5,48.2 323.0,37.6 323.5,50.5 324.0,31.5 324.5,53.6 325.0,36.1 325.5,38.2 326.0,53.9 326.5,50.7 327.0,58.5 327.5,50.5 328.0,36.8 328.5,57.4 329.0,32.5 329.5,40.2 330.0,36.2 330.5,35.7 331.0,38.6 331.5,29.7 332.0,49.8 332.5,21.2 333.0,38.2 333.5,27.0 334.0,36.4 334.5,62.5 335.0,55.1 335.5,57.4 336.0,60.5 336.5,54.3 337.0,56.3 337.5,53.8 338.0,53.0 338.5,49.6 339.0,38.6 339.5,56.5 340.0,34.5 340.5,52.9 341.0,37.3 341.5,41.5 342.0,54.1 342.5,53.8 343.0,57.5 343.5,57.4 344.0,34.2 344.5,50.4 345.0,28.5 345.5,42.4 346.0,33.2 346.5,57.3 347.0,38.8 347.5,41.2 348.0,56.5 348.5,53.3 349.0,53.3 349.5,40.1 350.0,38.8 350.5,44.0 351.0,34.5 351.5,41.0 352.0,37.7 352.5,49.2 353.0,56.5 353.5,50.4 354.0,53.5 354.5,41.1 355.0,52.1 355.5,49.3 356.0,40.5 356.5,56.1 357.0,42.7 357.5,47.6 358.0,50.0 358.5,48.9 359.0,43.3 359.5,50.0 360.0,43.7 360.5,48.1 361.0,48.3 361.5,44.5 362.0,51.6 362.5,38.2 363.0,37.9 363.5,38.8 364.0,34.0 364.5,39.8 365.0,27.1 365.5,55.6 366.0,32.7 366.5,55.5 367.0,55.6 367.5,49.6 368.0,59.5 368.5,54.1 369.0,37.0 369.5,57.7 370.0,31.5 370.5,63.2 371.0,34.9 371.5,72.0 372.0,36.9 372.5,26.4 373.0,41.6 373.5,32.3 374.0,52.5 374.5,36.6 375.0,56.5 375.5,35.1 376.0,53.3 376.5,40.9 377.0,38.4 377.5,49.7 378.0,33.5 378.5,57.1 379.0,37.0 379.5,45.0 380.0,53.6 380.5,42.0 381.0,57.5 381.5,49.6 382.0,34.2 382.5,51.3 383.0,39.6 383.5,48.9 384.0,36.5 384.5,37.6 385.0,35.1 385.5,50.9 386.0,34.3 386.5,54.5 387.0,27.1 387.5,49.6 388.0,32.6 388.5,54.8 389.0,37.3 389.5,50.9 390.0,50.4 390.5,51.5 391.0,52.0 391.5,43.7 392.0,55.5 392.5,42.1 393.0,53.1 393.5,43.3 394.0,41.1 394.5,49.6 395.0,37.5 395.5,49.0 396.0,39.5 396.5,52.0 397.0,40.0 397.5,52.1 398.0,36.5 398.5,42.6 399.0,39.3 399.5,49.0 400.0,53.5 400.5,53.9 401.0,40.5 401.5,48.7 402.0,49.6 402.5,49.9 403.0,41.6 403.5,40.7 404.0,56.2 404.5,42.4 405.0,44.8 405.5,52.3 406.0,43.8 406.5,45.5 407.0,41.5 407.5,43.0 408.0,48.6 408.5,42.1 409.0,49.7 409.5,45.9 410.0,49.5 410.5,44.2 411.0,52.7 411.5,43.7 412.0,51.4 412.5,48.3 413.0,42.8 413.5,49.4 414.0,44.3 414.5,50.6 415.0,42.0 415.5,44.3 416.0,47.3 416.5,47.1 417.0,45.0 417.5,48.3 418.0,50.0 418.5,41.8 419.0,47.4 419.5,45.0 420.0,42.2 420.5,43.3 421.0,43.1 421.5,49.0 422.0,48.0 422.5,48.2 423.0,51.6 423.5,44.1 424.0,42.3 424.5,51.0 425.0,43.4 425.5,44.6 426.0,49.7 426.5,51.4 427.0,51.3 427.5,42.2 428.0,49.0 428.5,42.6 429.0,43.3 429.5,48.2 430.0,42.3 430.5,41.9 431.0,48.8 431.5,51.3 432.0,44.6 432.5,52.0 433.0,41.3 433.5,50.1 434.0,43.9 434.5,47.6 435.0,45.9 435.5,44.4 436.0,45.9 436.5,49.3 437.0,50.6 437.5,48.1 438.0,47.9 438.5,48.3 439.0,45.2 439.5,43.6 440.0,48.0 440.5,42.7 441.0,45.4 441.5,53.6 442.0,50.9 442.5,42.8 443.0,41.9 443.5,51.0 444.0,43.4 444.5,49.4 445.0,45.4 445.5,43.1 446.0,52.9 446.5,48.9 447.0,44.3 447.5,52.4 448.0,50.1 448.5,43.8 449.0,49.4 449.5,42.5 450.0,47.1 450.5,43.5 451.0,45.6 451.5,48.2 452.0,45.5 452.5,49.0 453.0,47.3 453.5,45.2 454.0,45.0 454.5,42.3 455.0,44.9 455.5,49.9 456.0,44.5 456.5,49.9 457.0,45.6 457.5,49.8 458.0,43.8 458.5,49.1 459.0,48.4 459.5,47.8 460.0,43.7 460.5,47.6 461.0,45.1 461.5,48.0 462.0,45.9 462.5,45.1 463.0,45.0 463.5,47.2 464.0,47.8 464.5,47.1 465.0,47.6 465.5,44.8 466.0,48.0 466.5,44.1 467.0,47.4 467.5,45.5 468.0,46.9 468.5,47.7 469.0,45.5 469.5,47.6 470.0,45.0 470.5,45.8 471.0,47.7 471.5,45.3 472.0,47.9 472.5,47.4 473.0,45.8 473.5,44.8 474.0,45.8 474.5,43.6 475.0,48.4 475.5,42.3 476.0,43.7 476.5,43.3 477.0,44.6 477.5,44.5 478.0,45.2 478.5,48.8 479.0,45.4 479.5,47.9 480.0,45.0 480.5,48.0 481.0,45.1 481.5,47.6 482.0,45.4 482.5,44.7 483.0,45.5 483.5,47.8 484.0,45.5 484.5,47.2 485.0,47.2 485.5,45.9 486.0,47.4 486.5,45.2 487.0,46.3 487.5,47.6 488.0,45.5 488.5,47.3 489.0,45.3 489.5,46.9 490.0,45.2 490.5,47.4 491.0,44.9 491.5,47.2 492.0,47.5 492.5,45.4 493.0,47.2 493.5,45.1 494.0,46.9 494.5,45.7 495.0,47.4 495.5,47.4 496.0,46.3 496.5,48.1 497.0,46.0 497.5,46.9 498.0,44.9 498.5,45.7 499.0,47.8 499.5,45.6 500.0,47.5 500.5,46.1 501.0,45.0 501.5,46.8 502.0,47.1 502.5,45.4 503.0,45.6 503.5,45.2 504.0,45.2 504.5,47.2 505.0,45.6 505.5,45.9 506.0,45.8 506.5,46.9 507.0,45.5 507.5,47.6 508.0,45.7 508.5,46.1 509.0,47.1 509.5,45.5 510.0,47.9 510.5,47.2 511.0,45.5 511.5,47.3 512.0,45.6 512.5,48.1 513.0,45.2 513.5,47.2 514.0,45.7 514.5,46.7 515.0,45.5 515.5,45.6 516.0,47.2 516.5,45.7 517.0,47.6 517.5,45.4 518.0,47.4 518.5,45.6 519.0,47.3 519.5,45.9 520.0,47.2 520.5,45.1 521.0,48.3 521.5,44.9 522.0,47.6 522.5,45.9 523.0,45.7 523.5,45.4 524.0,47.1 524.5,46.8 525.0,45.6 525.5,46.0 526.0,47.2 526.5,46.0 527.0,47.3 527.5,45.6 528.0,47.2 528.5,47.1 529.0,47.8 529.5,45.2 530.0,47.4 530.5,45.9 531.0,47.1 531.5,45.2 532.0,46.1 532.5,48.2 533.0,45.9 533.5,47.3 534.0,46.1 534.5,47.4 535.0,46.2 535.5,46.0 536.0,47.3 536.5,45.9 537.0,48.0 537.5,45.6 538.0,45.9 538.5,45.3 539.0,46.9 539.5,45.9 540.0,47.8 540.5,45.6 541.0,47.4 541.5,45.2 542.0,45.5 542.5,45.9" fill="none" stroke="#000" stroke-width="0.70" stroke-linejoin="miter"/>
<path d="M104.2,42.5 L105.0,55.5 L105.8,43.4 M106.9,54.1 L107.7,29.5 L108.5,52.5 M112.2,54.5 L113.0,28.7 L113.8,52.7 M119.9,55.2 L120.7,27.1 L121.5,53.3 M121.8,36.6 L122.6,68.4 L123.4,38.8 M123.5,55.8 L124.3,25.9 L125.1,53.7 M124.7,40.9 L125.5,59.0 L126.3,42.1 M127.0,55.2 L127.8,27.1 L128.6,53.3 M128.7,39.8 L129.5,61.5 L130.3,41.2 M129.7,56.4 L130.5,24.5 L131.3,54.2 M131.8,57.1 L132.6,22.9 L133.4,54.8 M132.9,31.8 L133.7,79.1 L134.5,35.1 M134.8,59.8 L135.6,16.9 L136.4,56.9 M136.7,39.3 L137.5,62.5 L138.3,40.9 M138.2,56.0 L139.0,25.5 L139.8,53.9 M139.7,40.2 L140.5,60.5 L141.3,41.6 M142.2,54.6 L143.0,28.5 L143.8,52.8 M144.2,41.1 L145.0,58.5 L145.8,42.3 M146.2,55.8 L147.0,25.9 L147.8,53.7 M159.2,50.5 L160.0,37.5 L160.8,49.6 M161.2,42.0 L162.0,56.5 L162.8,43.0 M164.2,38.8 L165.0,63.7 L165.8,40.5 M167.2,55.8 L168.0,25.9 L168.8,53.7 M170.2,41.1 L171.0,58.5 L171.8,42.3 M173.2,51.9 L174.0,34.5 L174.8,50.7 M177.2,52.8 L178.0,32.5 L178.8,51.4 M180.2,41.1 L181.0,58.5 L181.8,42.3 M183.2,52.4 L184.0,33.5 L184.8,51.0 M186.2,58.1 L187.0,20.7 L187.8,55.5 M189.2,32.5 L190.0,77.7 L190.8,35.6 M192.2,52.4 L193.0,33.5 L193.8,51.0 M195.2,42.5 L196.0,55.5 L196.8,43.4 M198.2,51.0 L199.0,36.5 L199.8,50.0 M202.2,55.2 L203.0,27.1 L203.8,53.3 M205.2,51.9 L206.0,34.5 L206.8,50.7 M230.2,41.5 L231.0,57.5 L231.8,42.6 M231.2,52.1 L232.0,34.0 L232.8,50.9 M238.2,51.5 L239.0,35.5 L239.8,50.4 M247.2,51.5 L248.0,35.5 L248.8,50.4 M276.2,51.5 L277.0,35.5 L277.8,50.4 M280.2,51.5 L281.0,35.5 L281.8,50.4 M290.2,54.1 L291.0,29.5 L291.8,52.5 M292.2,42.0 L293.0,56.5 L293.8,43.0 M294.2,40.4 L295.0,60.0 L295.8,41.8 M296.2,54.1 L297.0,29.5 L297.8,52.5 M298.2,41.5 L299.0,57.5 L299.8,42.6 M300.2,52.4 L301.0,33.5 L301.8,51.0 M305.2,53.2 L306.0,31.5 L306.8,51.8 M307.2,40.6 L308.0,59.5 L308.8,42.0 M309.2,35.0 L310.0,72.0 L310.8,37.6 M312.2,59.5 L313.0,17.6 L313.8,56.6 M314.7,34.4 L315.5,73.3 L316.3,37.1 M317.2,56.2 L318.0,24.9 L318.8,54.1 M320.2,42.0 L321.0,56.5 L321.8,43.0 M323.2,53.2 L324.0,31.5 L324.8,51.8 M326.2,41.1 L327.0,58.5 L327.8,42.3 M328.2,52.8 L329.0,32.5 L329.8,51.4 M331.7,57.9 L332.5,21.2 L333.3,55.4 M333.7,39.3 L334.5,62.5 L335.3,40.9 M335.2,40.2 L336.0,60.5 L336.8,41.6 M339.2,51.9 L340.0,34.5 L340.8,50.7 M342.2,41.5 L343.0,57.5 L343.8,42.6 M344.2,54.6 L345.0,28.5 L345.8,52.8 M347.2,42.0 L348.0,56.5 L348.8,43.0 M350.2,51.9 L351.0,34.5 L351.8,50.7 M352.2,42.0 L353.0,56.5 L353.8,43.0 M364.2,55.2 L365.0,27.1 L365.8,53.3 M367.2,40.6 L368.0,59.5 L368.8,42.0 M369.2,53.2 L370.0,31.5 L370.8,51.8 M370.8,35.0 L371.6,72.0 L372.4,37.6 M371.8,55.5 L372.6,26.4 L373.4,53.5 M374.2,42.0 L375.0,56.5 L375.8,43.0 M377.2,52.4 L378.0,33.5 L378.8,51.0 M380.2,41.5 L381.0,57.5 L381.8,42.6 M383.2,51.0 L384.0,36.5 L384.8,50.0 M386.2,55.2 L387.0,27.1 L387.8,53.3 M391.2,42.5 L392.0,55.5 L392.8,43.4 M394.2,50.5 L395.0,37.5 L395.8,49.6 M397.2,51.0 L398.0,36.5 L398.8,50.0" fill="none" stroke="#000" stroke-width="0.70" stroke-linejoin="miter"/>
<rect x="474" y="17.5" width="64" height="12" fill="#fff"/>
<line x1="479" y1="23.4" x2="494" y2="23.4" stroke="#000" stroke-width="0.8"/>
<text x="496" y="26.5" class="l">Raw data</text>
<line x1="87.80" y1="106.50" x2="87.80" y2="173.00" stroke="#efefef" stroke-width="0.8"/>
<line x1="144.50" y1="106.50" x2="144.50" y2="173.00" stroke="#efefef" stroke-width="0.8"/>
<line x1="201.50" y1="106.50" x2="201.50" y2="173.00" stroke="#efefef" stroke-width="0.8"/>
<line x1="258.30" y1="106.50" x2="258.30" y2="173.00" stroke="#efefef" stroke-width="0.8"/>
<line x1="315.40" y1="106.50" x2="315.40" y2="173.00" stroke="#efefef" stroke-width="0.8"/>
<line x1="371.90" y1="106.50" x2="371.90" y2="173.00" stroke="#efefef" stroke-width="0.8"/>
<line x1="429.00" y1="106.50" x2="429.00" y2="173.00" stroke="#efefef" stroke-width="0.8"/>
<line x1="485.60" y1="106.50" x2="485.60" y2="173.00" stroke="#efefef" stroke-width="0.8"/>
<line x1="31.50" y1="128.67" x2="542.50" y2="128.67" stroke="#efefef" stroke-width="0.8"/>
<line x1="31.50" y1="150.83" x2="542.50" y2="150.83" stroke="#efefef" stroke-width="0.8"/>
<rect x="31.50" y="106.50" width="511.00" height="66.50" fill="none" stroke="#bdbdbd" stroke-width="1"/>
<line x1="87.80" y1="106.50" x2="87.80" y2="111.00" stroke="#bdbdbd" stroke-width="0.8"/>
<line x1="87.80" y1="173.00" x2="87.80" y2="168.50" stroke="#bdbdbd" stroke-width="0.8"/>
<line x1="144.50" y1="106.50" x2="144.50" y2="111.00" stroke="#bdbdbd" stroke-width="0.8"/>
<line x1="144.50" y1="173.00" x2="144.50" y2="168.50" stroke="#bdbdbd" stroke-width="0.8"/>
<line x1="201.50" y1="106.50" x2="201.50" y2="111.00" stroke="#bdbdbd" stroke-width="0.8"/>
<line x1="201.50" y1="173.00" x2="201.50" y2="168.50" stroke="#bdbdbd" stroke-width="0.8"/>
<line x1="258.30" y1="106.50" x2="258.30" y2="111.00" stroke="#bdbdbd" stroke-width="0.8"/>
<line x1="258.30" y1="173.00" x2="258.30" y2="168.50" stroke="#bdbdbd" stroke-width="0.8"/>
<line x1="315.40" y1="106.50" x2="315.40" y2="111.00" stroke="#bdbdbd" stroke-width="0.8"/>
<line x1="315.40" y1="173.00" x2="315.40" y2="168.50" stroke="#bdbdbd" stroke-width="0.8"/>
<line x1="371.90" y1="106.50" x2="371.90" y2="111.00" stroke="#bdbdbd" stroke-width="0.8"/>
<line x1="371.90" y1="173.00" x2="371.90" y2="168.50" stroke="#bdbdbd" stroke-width="0.8"/>
<line x1="429.00" y1="106.50" x2="429.00" y2="111.00" stroke="#bdbdbd" stroke-width="0.8"/>
<line x1="429.00" y1="173.00" x2="429.00" y2="168.50" stroke="#bdbdbd" stroke-width="0.8"/>
<line x1="485.60" y1="106.50" x2="485.60" y2="111.00" stroke="#bdbdbd" stroke-width="0.8"/>
<line x1="485.60" y1="173.00" x2="485.60" y2="168.50" stroke="#bdbdbd" stroke-width="0.8"/>
<line x1="31.50" y1="106.50" x2="36.00" y2="106.50" stroke="#bdbdbd" stroke-width="0.8"/>
<line x1="542.50" y1="106.50" x2="538.00" y2="106.50" stroke="#bdbdbd" stroke-width="0.8"/>
<text x="27.3" y="110.10" text-anchor="end" class="t">1.5</text>
<line x1="31.50" y1="128.67" x2="36.00" y2="128.67" stroke="#bdbdbd" stroke-width="0.8"/>
<line x1="542.50" y1="128.67" x2="538.00" y2="128.67" stroke="#bdbdbd" stroke-width="0.8"/>
<text x="27.3" y="132.27" text-anchor="end" class="t">1</text>
<line x1="31.50" y1="150.83" x2="36.00" y2="150.83" stroke="#bdbdbd" stroke-width="0.8"/>
<line x1="542.50" y1="150.83" x2="538.00" y2="150.83" stroke="#bdbdbd" stroke-width="0.8"/>
<text x="27.3" y="154.43" text-anchor="end" class="t">0.5</text>
<line x1="31.50" y1="173.00" x2="36.00" y2="173.00" stroke="#bdbdbd" stroke-width="0.8"/>
<line x1="542.50" y1="173.00" x2="538.00" y2="173.00" stroke="#bdbdbd" stroke-width="0.8"/>
<text x="27.3" y="176.60" text-anchor="end" class="t">0</text>
<polyline points="31.5,172.5 33.5,172.3 35.8,171.5 38.5,172.5 41.6,172.8 44.0,171.8 46.0,171.5 49.0,172.3 51.8,172.1 55.0,172.6 59.0,172.3 63.0,172.5 67.0,172.3 71.0,172.6 73.6,172.4 75.0,171.5 78.0,172.5 81.6,171.4 84.5,172.5 87.5,171.5 90.4,172.8 93.3,170.4 96.2,172.8 99.8,171.4 102.7,170.4 104.5,171.5 106.4,171.8 109.3,170.4 111.8,167.0 113.5,169.5 115.5,168.9 118.4,167.9 121.0,170.5 123.0,170.0 123.5,167.8 124.0,165.7 124.5,163.5 125.0,161.4 125.5,159.2 126.0,167.7 126.5,164.1 127.1,166.6 127.6,169.0 129.5,165.0 130.0,161.9 130.5,158.9 131.0,155.8 131.6,165.2 132.1,159.4 132.6,164.2 133.2,163.0 134.2,170.0 136.8,171.0 137.5,160.0 138.2,138.0 138.8,153.8 139.5,147.0 140.3,112.6 140.9,153.1 141.6,136.8 142.1,158.8 142.5,159.6 143.0,171.0 145.3,171.0 145.8,163.8 146.4,156.5 146.9,158.9 147.4,142.0 147.9,157.1 148.5,132.9 149.0,128.4 149.5,146.8 150.0,142.0 150.7,152.8 151.3,107.9 151.8,141.5 152.4,121.0 152.9,127.6 153.6,150.9 154.2,144.7 154.8,161.6 155.5,161.8 156.8,168.4 158.0,166.0 159.0,164.5 160.0,170.0 161.0,165.0 162.0,170.0 163.0,166.0 164.0,171.0 165.0,167.0 166.0,170.0 167.5,166.0 169.0,171.0 171.0,168.0 173.0,171.0 175.0,169.0 176.0,170.0 178.0,168.0 180.0,171.0 182.0,168.5 184.0,171.0 186.0,169.0 188.0,170.0 189.5,164.5 190.8,171.0 192.0,168.0 192.5,165.4 192.9,155.1 193.4,148.7 194.1,160.0 194.7,160.5 195.3,155.2 196.0,140.8 196.5,160.0 196.9,153.9 197.4,160.5 198.7,171.0 201.3,171.0 202.5,160.0 203.0,160.6 203.5,148.9 204.0,143.4 204.7,157.7 205.3,157.9 205.9,160.9 206.5,141.2 207.1,132.9 207.8,161.4 208.4,152.6 209.1,163.3 209.7,169.7 211.0,167.0 212.5,170.0 214.0,167.0 215.5,171.0 217.0,168.0 218.5,171.0 220.0,169.0 222.0,166.0 223.7,160.0 225.0,169.7 226.5,167.0 227.6,165.8 229.0,170.0 231.0,168.0 233.0,172.5 234.3,170.5 235.7,169.7 237.0,170.5 238.3,172.5 239.4,171.5 240.5,171.1 241.5,171.5 242.6,172.5 243.3,171.3 244.0,170.8 244.6,171.3 245.3,172.5 246.3,171.1 247.3,170.5 248.3,171.1 249.2,172.5 249.9,170.9 250.6,170.2 251.2,170.9 251.9,172.5 253.1,171.6 254.3,171.2 255.5,171.6 256.7,172.5 257.7,170.2 258.7,169.3 259.7,170.2 260.7,172.5 262.1,170.5 263.5,169.6 264.9,170.5 266.4,172.5 267.3,171.1 268.3,170.6 269.3,171.1 270.2,172.5 271.4,169.7 272.7,168.5 273.9,169.7 275.1,172.5 276.2,171.5 277.3,171.1 278.4,171.5 279.5,172.5 280.9,171.9 282.3,171.6 283.7,171.9 285.1,172.5 286.3,170.4 287.0,170.0 289.5,165.8 292.0,168.4 294.0,170.9 296.0,168.0 298.0,171.9 300.0,169.0 302.6,165.8 304.5,169.0 306.6,163.0 308.0,166.0 309.2,161.8 311.8,170.6 313.5,165.0 313.9,162.2 314.4,159.5 314.9,164.4 315.3,154.0 315.9,165.6 316.4,165.1 317.0,170.6 319.0,162.0 319.5,161.7 320.0,154.9 320.5,151.3 321.0,161.8 321.5,160.0 322.4,149.5 323.0,165.1 323.7,170.6 326.0,170.6 327.5,168.0 329.0,160.0 329.5,157.2 330.0,142.0 330.6,162.5 331.3,151.3 331.8,154.9 332.2,142.1 332.7,153.9 333.2,132.9 333.9,160.3 334.5,152.6 335.1,159.3 335.8,152.6 336.5,163.9 337.1,170.6 339.0,168.0 341.0,171.9 343.0,168.0 345.0,170.9 347.0,169.0 349.0,163.0 350.5,166.0 351.0,164.5 352.9,170.6 355.0,168.0 356.8,163.7 358.0,168.0 359.4,163.7 361.0,166.0 362.1,163.2 364.7,170.6 367.0,168.5 369.0,171.9 371.0,168.0 372.5,170.9 374.0,167.0 375.5,160.0 376.1,165.5 376.6,155.8 377.2,161.6 377.9,155.8 378.5,163.2 379.2,170.6 381.8,170.6 383.5,160.0 384.0,164.8 384.4,155.5 384.9,159.0 385.3,151.0 385.8,148.7 386.2,157.2 386.7,152.0 387.2,163.5 387.6,155.3 388.1,154.7 388.5,141.2 389.0,134.2 389.5,151.4 390.0,146.5 390.5,152.6 391.0,162.0 391.4,161.6 391.9,166.1 392.4,170.6 394.0,166.0 395.0,168.0 397.0,166.0 399.0,170.9 401.0,165.0 403.0,169.0 405.0,166.0 406.8,164.0 408.0,170.9 409.5,167.0 411.0,172.6 411.5,172.6 412.0,172.6 412.5,171.7 413.0,170.2 413.5,168.3 414.0,168.0 414.5,168.3 415.0,170.2 415.5,171.7 416.0,172.6 416.5,172.6 417.0,172.2 417.5,171.2 418.0,170.9 418.5,171.2 419.0,172.2 419.5,172.6 420.0,172.6 420.5,172.6 421.0,172.6 421.5,171.9 422.0,170.6 422.5,168.8 423.0,168.5 423.5,168.8 424.0,170.6 424.5,171.9 425.0,172.6 425.5,172.6 426.0,172.6 426.5,172.6 427.0,172.4 427.5,171.7 428.0,171.4 428.5,171.7 429.0,172.4 429.5,172.6 430.0,172.6 430.5,172.6 431.0,172.6 431.5,172.6 432.0,172.6 432.5,172.6 433.0,172.6 433.5,172.6 434.0,172.6 434.5,171.7 435.0,170.8 435.5,170.0 436.0,168.7 436.5,168.5 437.0,168.7 437.5,170.0 438.0,170.8 438.5,171.7 439.0,172.6 439.5,172.6 440.0,172.6 440.5,172.6 441.0,172.6 441.5,172.6 442.0,172.6 442.5,172.6 443.0,172.6 443.5,172.1 444.0,171.9 444.5,172.1 445.0,172.6 445.5,172.6 446.0,172.6 446.5,172.6 447.0,172.6 447.5,172.6 448.0,172.6 448.5,172.6 449.0,172.2 449.5,171.2 450.0,170.9 450.5,171.2 451.0,172.2 451.5,172.6 452.0,172.6 452.5,172.2 453.0,171.2 453.5,170.9 454.0,171.2 454.5,172.2 455.0,172.6 455.5,172.6 456.0,172.2 456.5,171.2 457.0,170.9 457.5,171.2 458.0,172.2 458.5,172.6 459.0,172.6 459.5,172.2 460.0,171.2 460.5,170.9 461.0,171.2 461.5,172.2 462.0,172.6 462.5,172.6 463.0,171.9 463.5,170.8 464.0,170.4 464.5,170.8 465.0,171.9 465.5,172.6 466.0,172.6 466.5,171.9 467.0,170.8 467.5,170.4 468.0,170.8 468.5,171.9 469.0,172.6 469.5,172.6 470.0,172.6 470.5,172.6 471.0,172.2 471.5,170.5 472.0,168.2 472.5,167.6 473.0,167.6 473.5,168.5 474.0,170.8 474.5,172.6 475.0,172.6 475.5,172.6 476.0,172.6 476.5,172.1 477.0,171.9 477.5,172.1 478.0,172.6 478.5,172.6 479.0,172.6 479.5,172.6 480.0,172.6 480.5,172.6 481.0,172.6 481.5,172.6 482.0,172.6 482.5,172.6 483.0,172.6 483.5,172.6 484.0,172.6 484.5,172.3 485.0,171.3 485.5,170.6 486.0,170.1 486.5,169.0 487.0,170.1 487.5,170.6 488.0,171.3 488.5,172.3 489.0,172.6 489.5,171.5 490.0,170.7 490.5,170.4 491.0,170.7 491.5,171.5 492.0,172.6 492.5,172.6 493.0,172.6 493.5,172.6 494.0,172.6 494.5,172.4 495.0,171.6 495.5,171.1 496.0,170.9 496.5,171.1 497.0,171.6 497.5,172.4 498.0,172.6 498.5,172.6 499.0,172.6 499.5,172.6 500.0,172.6 500.5,172.6 501.0,172.6 501.5,172.4 502.0,172.2 502.5,172.4 503.0,172.6 503.5,172.6 504.0,172.6 504.5,172.6 505.0,172.6 505.5,172.6 506.0,172.1 506.5,171.7 507.0,171.6 507.5,171.7 508.0,172.1 508.5,172.6 509.0,172.6 509.5,172.6 510.0,172.6 510.5,172.6 511.0,172.6 511.5,172.6 512.0,172.6 512.5,172.5 513.0,172.4 513.5,172.5 514.0,172.6 514.5,172.6 515.0,172.6 515.5,172.6 516.0,172.6 516.5,172.6 517.0,172.5 517.5,172.2 518.0,172.1 518.5,172.2 519.0,172.5 519.5,172.6 520.0,172.6 520.5,172.6 521.0,172.6 521.5,172.6 522.0,172.6 522.5,172.6 523.0,172.6 523.5,172.6 524.0,172.3 524.5,171.9 525.0,171.8 525.5,171.9 526.0,172.3 526.5,172.6 527.0,172.6 527.5,172.6 528.0,172.6 528.5,172.6 529.0,172.6 529.5,172.6 530.0,172.6 530.5,172.6 531.0,172.6 531.5,172.6 532.0,172.5 532.5,172.2 533.0,172.1 533.5,172.2 534.0,172.5 534.5,172.6 535.0,172.6 535.5,172.6 536.0,172.6 536.5,172.6 537.0,172.6 537.5,172.5 538.0,172.4 538.5,172.5 539.0,172.6 539.5,172.6 540.0,172.6 540.5,172.6 541.0,172.6 541.5,172.6 542.0,172.6 542.5,172.6" fill="none" stroke="#363636" stroke-width="1.1" stroke-linejoin="round"/>
<rect x="462" y="110.5" width="77" height="13" fill="#fff"/>
<line x1="466.7" y1="117.3" x2="481.3" y2="117.3" stroke="#444" stroke-width="1.1"/>
<text x="483.3" y="120.2" class="l">LPF-3 output</text>
<line x1="87.80" y1="199.50" x2="87.80" y2="266.00" stroke="#efefef" stroke-width="0.8"/>
<line x1="144.50" y1="199.50" x2="144.50" y2="266.00" stroke="#efefef" stroke-width="0.8"/>
<line x1="201.50" y1="199.50" x2="201.50" y2="266.00" stroke="#efefef" stroke-width="0.8"/>
<line x1="258.30" y1="199.50" x2="258.30" y2="266.00" stroke="#efefef" stroke-width="0.8"/>
<line x1="315.40" y1="199.50" x2="315.40" y2="266.00" stroke="#efefef" stroke-width="0.8"/>
<line x1="371.90" y1="199.50" x2="371.90" y2="266.00" stroke="#efefef" stroke-width="0.8"/>
<line x1="429.00" y1="199.50" x2="429.00" y2="266.00" stroke="#efefef" stroke-width="0.8"/>
<line x1="485.60" y1="199.50" x2="485.60" y2="266.00" stroke="#efefef" stroke-width="0.8"/>
<line x1="31.50" y1="220.28" x2="542.50" y2="220.28" stroke="#efefef" stroke-width="0.8"/>
<line x1="31.50" y1="241.06" x2="542.50" y2="241.06" stroke="#efefef" stroke-width="0.8"/>
<line x1="31.50" y1="261.84" x2="542.50" y2="261.84" stroke="#efefef" stroke-width="0.8"/>
<rect x="31.50" y="199.50" width="511.00" height="66.50" fill="none" stroke="#bdbdbd" stroke-width="1"/>
<line x1="87.80" y1="199.50" x2="87.80" y2="204.00" stroke="#bdbdbd" stroke-width="0.8"/>
<line x1="87.80" y1="266.00" x2="87.80" y2="261.50" stroke="#bdbdbd" stroke-width="0.8"/>
<line x1="144.50" y1="199.50" x2="144.50" y2="204.00" stroke="#bdbdbd" stroke-width="0.8"/>
<line x1="144.50" y1="266.00" x2="144.50" y2="261.50" stroke="#bdbdbd" stroke-width="0.8"/>
<line x1="201.50" y1="199.50" x2="201.50" y2="204.00" stroke="#bdbdbd" stroke-width="0.8"/>
<line x1="201.50" y1="266.00" x2="201.50" y2="261.50" stroke="#bdbdbd" stroke-width="0.8"/>
<line x1="258.30" y1="199.50" x2="258.30" y2="204.00" stroke="#bdbdbd" stroke-width="0.8"/>
<line x1="258.30" y1="266.00" x2="258.30" y2="261.50" stroke="#bdbdbd" stroke-width="0.8"/>
<line x1="315.40" y1="199.50" x2="315.40" y2="204.00" stroke="#bdbdbd" stroke-width="0.8"/>
<line x1="315.40" y1="266.00" x2="315.40" y2="261.50" stroke="#bdbdbd" stroke-width="0.8"/>
<line x1="371.90" y1="199.50" x2="371.90" y2="204.00" stroke="#bdbdbd" stroke-width="0.8"/>
<line x1="371.90" y1="266.00" x2="371.90" y2="261.50" stroke="#bdbdbd" stroke-width="0.8"/>
<line x1="429.00" y1="199.50" x2="429.00" y2="204.00" stroke="#bdbdbd" stroke-width="0.8"/>
<line x1="429.00" y1="266.00" x2="429.00" y2="261.50" stroke="#bdbdbd" stroke-width="0.8"/>
<line x1="485.60" y1="199.50" x2="485.60" y2="204.00" stroke="#bdbdbd" stroke-width="0.8"/>
<line x1="485.60" y1="266.00" x2="485.60" y2="261.50" stroke="#bdbdbd" stroke-width="0.8"/>
<line x1="31.50" y1="199.50" x2="36.00" y2="199.50" stroke="#bdbdbd" stroke-width="0.8"/>
<line x1="542.50" y1="199.50" x2="538.00" y2="199.50" stroke="#bdbdbd" stroke-width="0.8"/>
<text x="27.3" y="203.10" text-anchor="end" class="t">1.5</text>
<line x1="31.50" y1="220.28" x2="36.00" y2="220.28" stroke="#bdbdbd" stroke-width="0.8"/>
<line x1="542.50" y1="220.28" x2="538.00" y2="220.28" stroke="#bdbdbd" stroke-width="0.8"/>
<text x="27.3" y="223.88" text-anchor="end" class="t">1</text>
<line x1="31.50" y1="241.06" x2="36.00" y2="241.06" stroke="#bdbdbd" stroke-width="0.8"/>
<line x1="542.50" y1="241.06" x2="538.00" y2="241.06" stroke="#bdbdbd" stroke-width="0.8"/>
<text x="27.3" y="244.66" text-anchor="end" class="t">0.5</text>
<line x1="31.50" y1="261.84" x2="36.00" y2="261.84" stroke="#bdbdbd" stroke-width="0.8"/>
<line x1="542.50" y1="261.84" x2="538.00" y2="261.84" stroke="#bdbdbd" stroke-width="0.8"/>
<text x="27.3" y="265.44" text-anchor="end" class="t">0</text>
<polyline points="31.5,261.4 33.5,261.2 35.8,260.4 38.5,261.4 41.6,261.7 44.0,260.7 46.0,260.4 49.0,261.2 51.8,261.0 55.0,261.5 59.0,261.2 63.0,261.4 67.0,261.2 71.0,261.5 73.6,261.3 75.0,260.4 78.0,261.4 81.6,260.3 84.5,261.4 87.5,260.4 90.4,261.7 93.3,259.4 96.2,261.7 99.8,260.3 102.7,259.4 104.5,260.4 106.4,260.7 109.3,259.4 111.8,256.2 113.5,258.6 115.5,258.0 118.4,257.1 121.0,259.5 123.0,259.0 123.5,257.0 124.0,255.0 124.5,253.0 125.0,250.9 125.5,248.9 126.0,256.8 126.5,253.5 127.1,255.8 127.6,258.1 129.5,254.3 130.0,251.5 130.5,248.6 131.0,245.7 131.6,254.5 132.1,249.1 132.6,253.6 133.2,252.5 134.2,259.0 136.8,260.0 137.5,249.7 138.2,229.0 138.8,243.8 139.5,237.5 140.3,205.2 140.9,243.2 141.6,227.9 142.1,248.5 142.5,249.3 143.0,260.0 145.3,260.0 145.8,253.2 146.4,246.4 146.9,248.6 147.4,232.8 147.9,247.0 148.5,224.3 149.0,220.0 149.5,237.3 150.0,232.8 150.7,242.9 151.3,200.8 151.8,232.3 152.4,213.1 152.9,219.3 153.6,241.1 154.2,235.3 154.8,251.1 155.5,251.3 156.8,257.5 158.0,255.3 159.0,253.9 160.0,259.0 161.0,254.3 162.0,259.0 163.0,255.3 164.0,260.0 165.0,256.2 166.0,259.0 167.5,255.3 169.0,260.0 171.0,257.2 173.0,260.0 175.0,258.1 176.0,259.0 178.0,257.2 180.0,260.0 182.0,257.6 184.0,260.0 186.0,258.1 188.0,259.0 189.5,253.9 190.8,260.0 192.0,257.2 192.5,254.7 192.9,245.1 193.4,239.1 194.1,249.6 194.7,250.1 195.3,245.2 196.0,231.7 196.5,249.6 196.9,244.0 197.4,250.1 198.7,260.0 201.3,260.0 202.5,249.7 203.0,250.2 203.5,239.3 204.0,234.1 204.7,247.5 205.3,247.7 205.9,250.5 206.5,232.1 207.1,224.2 207.8,251.0 208.4,242.7 209.1,252.8 209.7,258.8 211.0,256.2 212.5,259.0 214.0,256.2 215.5,260.0 217.0,257.2 218.5,260.0 220.0,258.1 222.0,255.3 223.7,249.7 225.0,258.8 226.5,256.2 227.6,255.1 229.0,259.0 231.0,257.2 233.0,261.4 234.3,259.5 235.7,258.8 237.0,259.5 238.3,261.4 239.4,260.4 240.5,260.0 241.5,260.4 242.6,261.4 243.3,260.3 244.0,259.8 244.6,260.3 245.3,261.4 246.3,260.0 247.3,259.5 248.3,260.0 249.2,261.4 249.9,259.9 250.6,259.2 251.2,259.9 251.9,261.4 253.1,260.5 254.3,260.2 255.5,260.5 256.7,261.4 257.7,259.2 258.7,258.3 259.7,259.2 260.7,261.4 262.1,259.5 263.5,258.7 264.9,259.5 266.4,261.4 267.3,260.1 268.3,259.5 269.3,260.1 270.2,261.4 271.4,258.7 272.7,257.6 273.9,258.7 275.1,261.4 276.2,260.5 277.3,260.1 278.4,260.5 279.5,261.4 280.9,260.8 282.3,260.6 283.7,260.8 285.1,261.4 286.3,259.4 287.0,259.0 289.5,255.1 292.0,257.5 294.0,259.9 296.0,257.2 298.0,260.8 300.0,258.1 302.6,255.1 304.5,258.1 306.6,252.5 308.0,255.3 309.2,251.3 311.8,259.6 313.5,254.3 313.9,251.8 314.4,249.2 314.9,253.7 315.3,244.0 315.9,254.9 316.4,254.4 317.0,259.6 319.0,251.5 319.5,251.2 320.0,244.8 320.5,241.5 321.0,251.3 321.5,249.7 322.4,239.8 323.0,254.4 323.7,259.6 326.0,259.6 327.5,257.2 329.0,249.7 329.5,247.0 330.0,232.8 330.6,252.0 331.3,241.5 331.8,244.9 332.2,232.9 332.7,243.9 333.2,224.2 333.9,249.9 334.5,242.7 335.1,249.0 335.8,242.7 336.5,253.3 337.1,259.6 339.0,257.2 341.0,260.8 343.0,257.2 345.0,259.9 347.0,258.1 349.0,252.5 350.5,255.3 351.0,253.9 352.9,259.6 355.0,257.2 356.8,253.1 358.0,257.2 359.4,253.1 361.0,255.3 362.1,252.7 364.7,259.6 367.0,257.6 369.0,260.8 371.0,257.2 372.5,259.9 374.0,256.2 375.5,249.7 376.1,254.8 376.6,245.7 377.2,251.1 377.9,245.7 378.5,252.7 379.2,259.6 381.8,259.6 383.5,249.7 384.0,254.2 384.4,245.4 384.9,248.7 385.3,241.2 385.8,239.1 386.2,247.1 386.7,242.2 387.2,252.9 387.6,245.2 388.1,244.7 388.5,232.1 389.0,225.5 389.5,241.6 390.0,237.0 390.5,242.7 391.0,251.6 391.4,251.2 391.9,255.4 392.4,259.6 394.0,255.3 395.0,257.2 397.0,255.3 399.0,259.9 401.0,254.3 403.0,258.1 405.0,255.3 406.8,253.4 408.0,259.9 409.5,256.2 411.0,261.5 411.5,261.5 412.0,261.5 412.5,260.6 413.0,259.2 413.5,257.5 414.0,257.2 414.5,257.5 415.0,259.2 415.5,260.6 416.0,261.5 416.5,261.5 417.0,261.0 417.5,260.2 418.0,259.9 418.5,260.2 419.0,261.0 419.5,261.5 420.0,261.5 420.5,261.5 421.0,261.5 421.5,260.8 422.0,259.6 422.5,257.9 423.0,257.6 423.5,257.9 424.0,259.6 424.5,260.8 425.0,261.5 425.5,261.5 426.0,261.5 426.5,261.5 427.0,261.3 427.5,260.6 428.0,260.3 428.5,260.6 429.0,261.3 429.5,261.5 430.0,261.5 430.5,261.5 431.0,261.5 431.5,261.5 432.0,261.5 432.5,261.5 433.0,261.5 433.5,261.5 434.0,261.5 434.5,260.7 435.0,259.8 435.5,259.1 436.0,257.8 436.5,257.6 437.0,257.8 437.5,259.1 438.0,259.8 438.5,260.7 439.0,261.5 439.5,261.5 440.0,261.5 440.5,261.5 441.0,261.5 441.5,261.5 442.0,261.5 442.5,261.5 443.0,261.5 443.5,261.0 444.0,260.8 444.5,261.0 445.0,261.5 445.5,261.5 446.0,261.5 446.5,261.5 447.0,261.5 447.5,261.5 448.0,261.5 448.5,261.5 449.0,261.0 449.5,260.2 450.0,259.9 450.5,260.2 451.0,261.0 451.5,261.5 452.0,261.5 452.5,261.0 453.0,260.2 453.5,259.9 454.0,260.2 454.5,261.0 455.0,261.5 455.5,261.5 456.0,261.0 456.5,260.2 457.0,259.9 457.5,260.2 458.0,261.0 458.5,261.5 459.0,261.5 459.5,261.0 460.0,260.2 460.5,259.9 461.0,260.2 461.5,261.0 462.0,261.5 462.5,261.5 463.0,260.8 463.5,259.8 464.0,259.4 464.5,259.8 465.0,260.8 465.5,261.5 466.0,261.5 466.5,260.8 467.0,259.8 467.5,259.4 468.0,259.8 468.5,260.8 469.0,261.5 469.5,261.5 470.0,261.5 470.5,261.5 471.0,261.1 471.5,259.5 472.0,257.4 472.5,256.7 473.0,256.8 473.5,257.6 474.0,259.8 474.5,261.5 475.0,261.5 475.5,261.5 476.0,261.5 476.5,261.0 477.0,260.8 477.5,261.0 478.0,261.5 478.5,261.5 479.0,261.5 479.5,261.5 480.0,261.5 480.5,261.5 481.0,261.5 481.5,261.5 482.0,261.5 482.5,261.5 483.0,261.5 483.5,261.5 484.0,261.5 484.5,261.2 485.0,260.3 485.5,259.6 486.0,259.1 486.5,258.1 487.0,259.1 487.5,259.6 488.0,260.3 488.5,261.2 489.0,261.5 489.5,260.5 490.0,259.7 490.5,259.4 491.0,259.7 491.5,260.5 492.0,261.5 492.5,261.5 493.0,261.5 493.5,261.5 494.0,261.5 494.5,261.3 495.0,260.6 495.5,260.1 496.0,259.9 496.5,260.1 497.0,260.6 497.5,261.3 498.0,261.5 498.5,261.5 499.0,261.5 499.5,261.5 500.0,261.5 500.5,261.5 501.0,261.5 501.5,261.2 502.0,261.1 502.5,261.2 503.0,261.5 503.5,261.5 504.0,261.5 504.5,261.5 505.0,261.5 505.5,261.5 506.0,261.0 506.5,260.7 507.0,260.5 507.5,260.7 508.0,261.0 508.5,261.5 509.0,261.5 509.5,261.5 510.0,261.5 510.5,261.5 511.0,261.5 511.5,261.5 512.0,261.5 512.5,261.4 513.0,261.3 513.5,261.4 514.0,261.5 514.5,261.5 515.0,261.5 515.5,261.5 516.0,261.5 516.5,261.5 517.0,261.4 517.5,261.1 518.0,261.0 518.5,261.1 519.0,261.4 519.5,261.5 520.0,261.5 520.5,261.5 521.0,261.5 521.5,261.5 522.0,261.5 522.5,261.5 523.0,261.5 523.5,261.5 524.0,261.2 524.5,260.8 525.0,260.7 525.5,260.8 526.0,261.2 526.5,261.5 527.0,261.5 527.5,261.5 528.0,261.5 528.5,261.5 529.0,261.5 529.5,261.5 530.0,261.5 530.5,261.5 531.0,261.5 531.5,261.5 532.0,261.4 532.5,261.1 533.0,261.0 533.5,261.1 534.0,261.4 534.5,261.5 535.0,261.5 535.5,261.5 536.0,261.5 536.5,261.5 537.0,261.5 537.5,261.4 538.0,261.3 538.5,261.4 539.0,261.5 539.5,261.5 540.0,261.5 540.5,261.5 541.0,261.5 541.5,261.5 542.0,261.5 542.5,261.5" fill="none" stroke="#c6c6c6" stroke-width="1.0" stroke-linejoin="round"/>
<path d="M31.50,260.40 C33.80,260.45 40.13,260.60 45.30,260.70 C50.47,260.80 56.75,261.13 62.50,261.00 C68.25,260.87 74.62,260.28 79.80,259.90 C84.98,259.52 90.15,258.85 93.60,258.70 C97.05,258.55 98.20,258.72 100.50,259.00 C102.80,259.28 105.08,260.17 107.40,260.40 C109.72,260.63 112.80,260.53 114.40,260.40 C116.00,260.27 116.02,260.17 117.00,259.60 C117.98,259.03 118.92,258.90 120.30,257.00 C121.68,255.10 123.62,252.20 125.30,248.20 C126.98,244.20 128.72,238.07 130.40,233.00 C132.08,227.93 133.72,222.03 135.40,217.80 C137.08,213.57 138.80,210.25 140.50,207.60 C142.20,204.95 143.97,203.07 145.60,201.90 C147.23,200.73 148.62,200.15 150.30,200.60 C151.98,201.05 153.95,202.15 155.70,204.60 C157.45,207.05 159.12,211.00 160.80,215.30 C162.48,219.60 164.12,225.55 165.80,230.40 C167.48,235.25 169.20,240.17 170.90,244.40 C172.60,248.63 174.47,253.57 176.00,255.80 C177.53,258.03 178.57,257.88 180.10,257.80 C181.63,257.72 183.50,257.12 185.20,255.30 C186.90,253.48 188.62,250.12 190.30,246.90 C191.98,243.68 193.62,239.25 195.30,236.00 C196.98,232.75 198.72,229.43 200.40,227.40 C202.08,225.37 204.13,224.47 205.40,223.80 C206.67,223.13 206.73,222.80 208.00,223.40 C209.27,224.00 211.32,225.38 213.00,227.40 C214.68,229.42 216.40,232.47 218.10,235.50 C219.80,238.53 221.52,242.43 223.20,245.60 C224.88,248.77 226.52,252.05 228.20,254.50 C229.88,256.95 231.60,258.73 233.30,260.30 C235.00,261.87 236.72,263.08 238.40,263.90 C240.08,264.72 241.80,264.95 243.40,265.20 C245.00,265.45 246.57,265.52 248.00,265.40 C249.43,265.28 250.38,264.93 252.00,264.50 C253.62,264.07 255.48,263.62 257.70,262.80 C259.92,261.98 262.77,260.48 265.30,259.60 C267.83,258.72 270.37,257.72 272.90,257.50 C275.43,257.28 277.97,258.05 280.50,258.30 C283.03,258.55 285.78,258.72 288.10,259.00 C290.42,259.28 292.28,260.20 294.40,260.00 C296.52,259.80 298.90,258.93 300.80,257.80 C302.70,256.67 304.12,255.23 305.80,253.20 C307.48,251.17 309.20,248.33 310.90,245.60 C312.60,242.87 314.47,239.33 316.00,236.80 C317.53,234.27 318.57,232.30 320.10,230.40 C321.63,228.50 323.72,226.48 325.20,225.40 C326.68,224.32 327.73,224.20 329.00,223.90 C330.27,223.60 331.33,223.15 332.80,223.60 C334.27,224.05 336.12,225.03 337.80,226.60 C339.48,228.17 341.20,230.67 342.90,233.00 C344.60,235.33 346.32,238.20 348.00,240.60 C349.68,243.00 351.32,245.63 353.00,247.40 C354.68,249.17 356.62,250.35 358.10,251.20 C359.58,252.05 360.42,252.80 361.90,252.50 C363.38,252.20 365.32,250.97 367.00,249.40 C368.68,247.83 370.33,245.42 372.00,243.10 C373.67,240.78 375.30,237.82 377.00,235.50 C378.70,233.18 380.87,230.62 382.20,229.20 C383.53,227.78 383.77,227.63 385.00,227.00 C386.23,226.37 387.90,225.25 389.60,225.40 C391.30,225.55 393.42,226.43 395.20,227.90 C396.98,229.37 398.62,231.67 400.30,234.20 C401.98,236.73 403.62,240.13 405.30,243.10 C406.98,246.07 408.72,249.47 410.40,252.00 C412.08,254.53 413.72,256.62 415.40,258.30 C417.08,259.98 418.60,261.17 420.50,262.10 C422.40,263.03 425.12,263.58 426.80,263.90 C428.48,264.22 429.12,264.18 430.60,264.00 C432.08,263.82 433.58,263.42 435.70,262.80 C437.82,262.18 440.77,261.00 443.30,260.30 C445.83,259.60 448.35,259.05 450.90,258.60 C453.45,258.15 455.87,257.85 458.60,257.60 C461.33,257.35 464.42,257.12 467.30,257.10 C470.18,257.08 473.03,257.27 475.90,257.50 C478.77,257.73 481.62,258.13 484.50,258.50 C487.38,258.87 490.32,259.38 493.20,259.70 C496.08,260.02 497.50,260.23 501.80,260.40 C506.10,260.57 512.22,260.60 519.00,260.70 C525.78,260.80 538.58,260.95 542.50,261.00" fill="none" stroke="#1f77b9" stroke-width="1.3"/>
<text x="160" y="207.2" class="l">Peak-1</text>
<text x="204.2" y="219.8" class="l">Peak-2</text>
<text x="323.3" y="220.3" class="l">Peak-3</text>
<text x="378.8" y="220.3" class="l">Peak-4</text>
<circle cx="150.4" cy="200.3" r="2.3" fill="#ff0000"/>
<circle cx="208.0" cy="223.6" r="2.3" fill="#ff0000"/>
<circle cx="332.9" cy="224.0" r="2.3" fill="#ff0000"/>
<circle cx="389.6" cy="225.3" r="2.3" fill="#ff0000"/>
<rect x="462" y="203" width="77" height="33" fill="#fff"/>
<line x1="466.7" y1="210.1" x2="481.3" y2="210.1" stroke="#c6c6c6" stroke-width="1.0"/>
<text x="483.3" y="213.2" class="l">LPF-3 output</text>
<line x1="466.7" y1="220.1" x2="481.3" y2="220.1" stroke="#1f77b9" stroke-width="1.3"/>
<text x="483.3" y="223.2" class="l">Envelope-3</text>
<circle cx="473.6" cy="230.1" r="2.3" fill="#ff0000"/>
<text x="483.3" y="233.2" class="l">Axle positions</text>
<text x="31.50" y="279.8" text-anchor="middle" class="t">7.8</text>
<text x="87.80" y="279.8" text-anchor="middle" class="t">7.9</text>
<text x="144.50" y="279.8" text-anchor="middle" class="t">8</text>
<text x="201.50" y="279.8" text-anchor="middle" class="t">8.1</text>
<text x="258.30" y="279.8" text-anchor="middle" class="t">8.2</text>
<text x="315.40" y="279.8" text-anchor="middle" class="t">8.3</text>
<text x="371.90" y="279.8" text-anchor="middle" class="t">8.4</text>
<text x="429.00" y="279.8" text-anchor="middle" class="t">8.5</text>
<text x="485.60" y="279.8" text-anchor="middle" class="t">8.6</text>
<text x="542.50" y="279.8" text-anchor="middle" class="t">8.7</text>
<text x="286.6" y="292.6" text-anchor="middle" class="xl" style="font-size:10.9px">Time (s)</text>
<text x="286.6" y="9.4" text-anchor="middle" class="ti">Segment-3</text>
<text transform="translate(9.7,158.0) rotate(-90)" class="xl"><tspan style="font-size:11.2px">&#916;&#955;</tspan><tspan style="font-size:11.6px"> (nm)</tspan></text>
</svg>
</body></html>
